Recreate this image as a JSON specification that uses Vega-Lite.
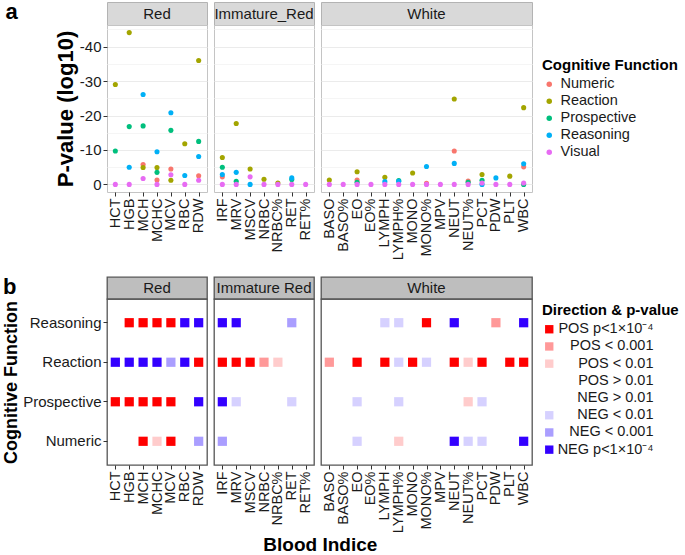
{
  "$schema": "https://vega.github.io/schema/vega-lite/v6.json",
  "background": "white",
  "padding": {"left": 1, "top": 0, "right": 0, "bottom": 0},
  "config": {"font": "Liberation Sans", "view": {"stroke": null}, "concat": {"spacing": 5}},
  "datasets": {
    "top": [
      {"g":"Red","i":"MCH","f":"Numeric","v":-5.8},
      {"g":"Red","i":"MCHC","f":"Numeric","v":-1.3},
      {"g":"Red","i":"MCV","f":"Numeric","v":-4.5},
      {"g":"Red","i":"RDW","f":"Numeric","v":-2.5},
      {"g":"Immature_Red","i":"IRF","f":"Numeric","v":-2.2},
      {"g":"White","i":"EO","f":"Numeric","v":-1.3},
      {"g":"White","i":"MONO%","f":"Numeric","v":-0.3},
      {"g":"White","i":"NEUT","f":"Numeric","v":-9.7},
      {"g":"White","i":"NEUT%","f":"Numeric","v":-1.0},
      {"g":"White","i":"WBC","f":"Numeric","v":-5.1},
      {"g":"Red","i":"HCT","f":"Reaction","v":-29.0},
      {"g":"Red","i":"HGB","f":"Reaction","v":-44.1},
      {"g":"Red","i":"MCH","f":"Reaction","v":-4.9},
      {"g":"Red","i":"MCHC","f":"Reaction","v":-4.9},
      {"g":"Red","i":"MCV","f":"Reaction","v":-1.2},
      {"g":"Red","i":"RBC","f":"Reaction","v":-11.8},
      {"g":"Red","i":"RDW","f":"Reaction","v":-36.0},
      {"g":"Immature_Red","i":"IRF","f":"Reaction","v":-7.8},
      {"g":"Immature_Red","i":"MRV","f":"Reaction","v":-17.7},
      {"g":"Immature_Red","i":"MSCV","f":"Reaction","v":-4.5},
      {"g":"Immature_Red","i":"NRBC","f":"Reaction","v":-1.5},
      {"g":"Immature_Red","i":"NRBC%","f":"Reaction","v":-0.4},
      {"g":"White","i":"BASO","f":"Reaction","v":-1.3},
      {"g":"White","i":"EO","f":"Reaction","v":-3.7},
      {"g":"White","i":"LYMPH","f":"Reaction","v":-2.1},
      {"g":"White","i":"MONO","f":"Reaction","v":-3.3},
      {"g":"White","i":"NEUT","f":"Reaction","v":-24.8},
      {"g":"White","i":"PCT","f":"Reaction","v":-2.9},
      {"g":"White","i":"PLT","f":"Reaction","v":-2.4},
      {"g":"White","i":"WBC","f":"Reaction","v":-22.3},
      {"g":"Red","i":"HCT","f":"Prospective","v":-9.7},
      {"g":"Red","i":"HGB","f":"Prospective","v":-16.8},
      {"g":"Red","i":"MCH","f":"Prospective","v":-17.0},
      {"g":"Red","i":"MCHC","f":"Prospective","v":-3.5},
      {"g":"Red","i":"MCV","f":"Prospective","v":-15.7},
      {"g":"Red","i":"RDW","f":"Prospective","v":-12.5},
      {"g":"Immature_Red","i":"IRF","f":"Prospective","v":-5.0},
      {"g":"Immature_Red","i":"MRV","f":"Prospective","v":-0.9},
      {"g":"Immature_Red","i":"RET","f":"Prospective","v":-1.4},
      {"g":"White","i":"EO","f":"Prospective","v":-0.6},
      {"g":"White","i":"LYMPH%","f":"Prospective","v":-1.1},
      {"g":"White","i":"NEUT%","f":"Prospective","v":-0.6},
      {"g":"White","i":"PCT","f":"Prospective","v":-1.2},
      {"g":"White","i":"WBC","f":"Prospective","v":0},
      {"g":"Red","i":"HGB","f":"Reasoning","v":-5.0},
      {"g":"Red","i":"MCH","f":"Reasoning","v":-26.1},
      {"g":"Red","i":"MCHC","f":"Reasoning","v":-9.5},
      {"g":"Red","i":"MCV","f":"Reasoning","v":-20.8},
      {"g":"Red","i":"RBC","f":"Reasoning","v":-2.6},
      {"g":"Red","i":"RDW","f":"Reasoning","v":-8.1},
      {"g":"Immature_Red","i":"IRF","f":"Reasoning","v":-2.9},
      {"g":"Immature_Red","i":"MRV","f":"Reasoning","v":-3.5},
      {"g":"Immature_Red","i":"MSCV","f":"Reasoning","v":0},
      {"g":"Immature_Red","i":"RET","f":"Reasoning","v":-1.9},
      {"g":"White","i":"LYMPH","f":"Reasoning","v":-0.8},
      {"g":"White","i":"LYMPH%","f":"Reasoning","v":-0.9},
      {"g":"White","i":"MONO%","f":"Reasoning","v":-5.2},
      {"g":"White","i":"NEUT","f":"Reasoning","v":-6.1},
      {"g":"White","i":"PCT","f":"Reasoning","v":0},
      {"g":"White","i":"PDW","f":"Reasoning","v":-1.9},
      {"g":"White","i":"WBC","f":"Reasoning","v":-6.0},
      {"g":"Red","i":"HCT","f":"Visual","v":0},
      {"g":"Red","i":"HGB","f":"Visual","v":0},
      {"g":"Red","i":"MCH","f":"Visual","v":-1.7},
      {"g":"Red","i":"MCHC","f":"Visual","v":0},
      {"g":"Red","i":"MCV","f":"Visual","v":-2.8},
      {"g":"Red","i":"RBC","f":"Visual","v":0},
      {"g":"Red","i":"RDW","f":"Visual","v":-1.2},
      {"g":"Immature_Red","i":"IRF","f":"Visual","v":0},
      {"g":"Immature_Red","i":"MRV","f":"Visual","v":0},
      {"g":"Immature_Red","i":"MSCV","f":"Visual","v":-2.2},
      {"g":"Immature_Red","i":"NRBC","f":"Visual","v":0},
      {"g":"Immature_Red","i":"NRBC%","f":"Visual","v":0},
      {"g":"Immature_Red","i":"RET","f":"Visual","v":0},
      {"g":"Immature_Red","i":"RET%","f":"Visual","v":0},
      {"g":"White","i":"BASO","f":"Visual","v":0},
      {"g":"White","i":"BASO%","f":"Visual","v":0},
      {"g":"White","i":"EO","f":"Visual","v":0},
      {"g":"White","i":"EO%","f":"Visual","v":0},
      {"g":"White","i":"LYMPH","f":"Visual","v":0},
      {"g":"White","i":"LYMPH%","f":"Visual","v":0},
      {"g":"White","i":"MONO","f":"Visual","v":0},
      {"g":"White","i":"MONO%","f":"Visual","v":0},
      {"g":"White","i":"MPV","f":"Visual","v":0},
      {"g":"White","i":"NEUT","f":"Visual","v":0},
      {"g":"White","i":"NEUT%","f":"Visual","v":0},
      {"g":"White","i":"PCT","f":"Visual","v":-0.4},
      {"g":"White","i":"PDW","f":"Visual","v":0},
      {"g":"White","i":"PLT","f":"Visual","v":0},
      {"g":"White","i":"WBC","f":"Visual","v":-0.4}
    ],
    "tiles": [
      {"g":"Red","i":"HGB","f":"Reasoning","c":"POS p<1×10⁻⁴"},
      {"g":"Red","i":"MCH","f":"Reasoning","c":"POS p<1×10⁻⁴"},
      {"g":"Red","i":"MCHC","f":"Reasoning","c":"POS p<1×10⁻⁴"},
      {"g":"Red","i":"MCV","f":"Reasoning","c":"POS p<1×10⁻⁴"},
      {"g":"Red","i":"RBC","f":"Reasoning","c":"NEG p<1×10⁻⁴"},
      {"g":"Red","i":"RDW","f":"Reasoning","c":"NEG p<1×10⁻⁴"},
      {"g":"Red","i":"HCT","f":"Reaction","c":"NEG p<1×10⁻⁴"},
      {"g":"Red","i":"HGB","f":"Reaction","c":"NEG p<1×10⁻⁴"},
      {"g":"Red","i":"MCH","f":"Reaction","c":"NEG p<1×10⁻⁴"},
      {"g":"Red","i":"MCHC","f":"Reaction","c":"NEG p<1×10⁻⁴"},
      {"g":"Red","i":"MCV","f":"Reaction","c":"NEG < 0.001"},
      {"g":"Red","i":"RBC","f":"Reaction","c":"NEG p<1×10⁻⁴"},
      {"g":"Red","i":"RDW","f":"Reaction","c":"POS p<1×10⁻⁴"},
      {"g":"Red","i":"HCT","f":"Prospective","c":"POS p<1×10⁻⁴"},
      {"g":"Red","i":"HGB","f":"Prospective","c":"POS p<1×10⁻⁴"},
      {"g":"Red","i":"MCH","f":"Prospective","c":"POS p<1×10⁻⁴"},
      {"g":"Red","i":"MCHC","f":"Prospective","c":"POS p<1×10⁻⁴"},
      {"g":"Red","i":"MCV","f":"Prospective","c":"POS p<1×10⁻⁴"},
      {"g":"Red","i":"RDW","f":"Prospective","c":"NEG p<1×10⁻⁴"},
      {"g":"Red","i":"MCH","f":"Numeric","c":"POS p<1×10⁻⁴"},
      {"g":"Red","i":"MCHC","f":"Numeric","c":"POS < 0.01"},
      {"g":"Red","i":"MCV","f":"Numeric","c":"POS p<1×10⁻⁴"},
      {"g":"Red","i":"RDW","f":"Numeric","c":"NEG < 0.001"},
      {"g":"Immature Red","i":"IRF","f":"Reasoning","c":"NEG p<1×10⁻⁴"},
      {"g":"Immature Red","i":"MRV","f":"Reasoning","c":"NEG p<1×10⁻⁴"},
      {"g":"Immature Red","i":"RET","f":"Reasoning","c":"NEG < 0.001"},
      {"g":"Immature Red","i":"IRF","f":"Reaction","c":"POS p<1×10⁻⁴"},
      {"g":"Immature Red","i":"MRV","f":"Reaction","c":"POS p<1×10⁻⁴"},
      {"g":"Immature Red","i":"MSCV","f":"Reaction","c":"POS p<1×10⁻⁴"},
      {"g":"Immature Red","i":"NRBC","f":"Reaction","c":"POS < 0.001"},
      {"g":"Immature Red","i":"NRBC%","f":"Reaction","c":"POS < 0.01"},
      {"g":"Immature Red","i":"IRF","f":"Prospective","c":"NEG p<1×10⁻⁴"},
      {"g":"Immature Red","i":"MRV","f":"Prospective","c":"NEG < 0.01"},
      {"g":"Immature Red","i":"RET","f":"Prospective","c":"NEG < 0.01"},
      {"g":"Immature Red","i":"IRF","f":"Numeric","c":"NEG < 0.001"},
      {"g":"White","i":"LYMPH","f":"Reasoning","c":"NEG < 0.01"},
      {"g":"White","i":"LYMPH%","f":"Reasoning","c":"NEG < 0.01"},
      {"g":"White","i":"MONO%","f":"Reasoning","c":"POS p<1×10⁻⁴"},
      {"g":"White","i":"NEUT","f":"Reasoning","c":"NEG p<1×10⁻⁴"},
      {"g":"White","i":"PDW","f":"Reasoning","c":"POS < 0.001"},
      {"g":"White","i":"WBC","f":"Reasoning","c":"NEG p<1×10⁻⁴"},
      {"g":"White","i":"BASO","f":"Reaction","c":"POS < 0.001"},
      {"g":"White","i":"EO","f":"Reaction","c":"POS p<1×10⁻⁴"},
      {"g":"White","i":"LYMPH","f":"Reaction","c":"POS p<1×10⁻⁴"},
      {"g":"White","i":"LYMPH%","f":"Reaction","c":"NEG < 0.01"},
      {"g":"White","i":"MONO","f":"Reaction","c":"POS p<1×10⁻⁴"},
      {"g":"White","i":"MONO%","f":"Reaction","c":"NEG < 0.01"},
      {"g":"White","i":"NEUT","f":"Reaction","c":"POS p<1×10⁻⁴"},
      {"g":"White","i":"NEUT%","f":"Reaction","c":"POS < 0.01"},
      {"g":"White","i":"PCT","f":"Reaction","c":"POS p<1×10⁻⁴"},
      {"g":"White","i":"PLT","f":"Reaction","c":"POS p<1×10⁻⁴"},
      {"g":"White","i":"WBC","f":"Reaction","c":"POS p<1×10⁻⁴"},
      {"g":"White","i":"EO","f":"Prospective","c":"NEG < 0.01"},
      {"g":"White","i":"LYMPH%","f":"Prospective","c":"NEG < 0.01"},
      {"g":"White","i":"NEUT%","f":"Prospective","c":"POS < 0.01"},
      {"g":"White","i":"PCT","f":"Prospective","c":"NEG < 0.01"},
      {"g":"White","i":"EO","f":"Numeric","c":"NEG < 0.01"},
      {"g":"White","i":"LYMPH%","f":"Numeric","c":"POS < 0.01"},
      {"g":"White","i":"NEUT","f":"Numeric","c":"NEG p<1×10⁻⁴"},
      {"g":"White","i":"NEUT%","f":"Numeric","c":"NEG < 0.01"},
      {"g":"White","i":"PCT","f":"Numeric","c":"NEG < 0.01"},
      {"g":"White","i":"WBC","f":"Numeric","c":"NEG p<1×10⁻⁴"}
    ]
  },
  "vconcat": [
    {
      "hconcat": [
        {
          "bounds": "flush", "spacing": 0,
          "vconcat": [
            {"width": 100, "height": 23, "data": {"values": [{"p": "Red"}]},
             "title": {"text": "a", "orient": "left", "angle": 0, "anchor": "end", "baseline": "top", "fontSize": 22, "fontWeight": "bold", "offset": 77, "color": "#000"},
             "mark": {"type": "text", "fontSize": 15, "color": "#1A1A1A"}, "encoding": {"text": {"field": "p"}},
             "view": {"fill": "#D9D9D9", "stroke": "#B3B3B3"}},
            {"width": 100, "height": 167, "data": {"name": "top"},
             "transform": [{"filter": "datum.g === 'Red'"}],
             "mark": {"type": "point", "filled": true, "size": 26, "opacity": 1},
             "encoding": {
               "x": {"field": "i", "type": "nominal", "scale": {"type": "point", "padding": 0.6, "domain": ["HCT","HGB","MCH","MCHC","MCV","RBC","RDW"]},
                     "axis": {"title": null, "labelAngle": -90, "labelFontSize": 14.5, "labelColor": "#1A1A1A", "domain": false, "tickColor": "#333", "tickSize": 4, "gridColor": "#EBEBEB", "labelPadding": 2}},
               "y": {"field": "v", "type": "quantitative", "scale": {"domain": [-46.3, 2.2], "reverse": true, "nice": false, "zero": false},
                     "axis": {"title": "P-value (log10)", "titleFontSize": 22, "titleFontWeight": "bold", "titleColor": "#000", "titlePadding": 2,
                              "values": [-45,-40,-35,-30,-25,-20,-15,-10,-5,0],
                              "labelExpr": "datum.value % 10 === 0 ? '' + datum.value : ''",
                              "labelFontSize": 15, "labelColor": "#1A1A1A", "domain": false, "tickColor": "#333", "tickSize": 4, "labelPadding": 2,
                              "tickOpacity": {"condition": {"test": "datum.value % 10 === 0", "value": 1}, "value": 0},
                              "gridColor": {"condition": {"test": "datum.value % 10 === 0", "value": "#EBEBEB"}, "value": "#F5F5F5"}}},
               "color": {"field": "f", "type": "nominal",
                         "scale": {"domain": ["Numeric","Reaction","Prospective","Reasoning","Visual"], "range": ["#F8766D","#A3A500","#00BF7D","#00B0F6","#E76BF3"]},
                         "legend": {"orient": "none", "legendX": 435, "legendY": 56, "title": "Cognitive Function", "titleFontSize": 15, "titleFontWeight": "bold", "titleColor": "#000", "labelFontSize": 14.5, "labelColor": "#1A1A1A", "symbolType": "circle", "symbolSize": 30, "rowPadding": 2, "titlePadding": 4}}
             },
             "view": {"stroke": "#C4C4C4"}}
          ]
        },
        {
          "bounds": "flush", "spacing": 0,
          "vconcat": [
            {"width": 100, "height": 23, "data": {"values": [{"p": "Immature_Red"}]},
             "mark": {"type": "text", "fontSize": 15, "color": "#1A1A1A"}, "encoding": {"text": {"field": "p"}},
             "view": {"fill": "#D9D9D9", "stroke": "#B3B3B3"}},
            {"width": 100, "height": 167, "data": {"name": "top"},
             "transform": [{"filter": "datum.g === 'Immature_Red'"}],
             "mark": {"type": "point", "filled": true, "size": 26, "opacity": 1},
             "encoding": {
               "x": {"field": "i", "type": "nominal", "scale": {"type": "point", "padding": 0.6, "domain": ["IRF","MRV","MSCV","NRBC","NRBC%","RET","RET%"]},
                     "axis": {"title": null, "labelAngle": -90, "labelFontSize": 14.5, "labelColor": "#1A1A1A", "domain": false, "tickColor": "#333", "tickSize": 4, "gridColor": "#EBEBEB", "labelPadding": 2}},
               "y": {"field": "v", "type": "quantitative", "scale": {"domain": [-46.3, 2.2], "reverse": true, "nice": false, "zero": false},
                     "axis": {"title": null, "labels": false, "ticks": false, "domain": false,
                              "values": [-45,-40,-35,-30,-25,-20,-15,-10,-5,0],
                              "gridColor": {"condition": {"test": "datum.value % 10 === 0", "value": "#EBEBEB"}, "value": "#F5F5F5"}}},
               "color": {"field": "f", "type": "nominal"}
             },
             "view": {"stroke": "#C4C4C4"}}
          ]
        },
        {
          "bounds": "flush", "spacing": 0,
          "vconcat": [
            {"width": 211, "height": 23, "data": {"values": [{"p": "White"}]},
             "mark": {"type": "text", "fontSize": 15, "color": "#1A1A1A"}, "encoding": {"text": {"field": "p"}},
             "view": {"fill": "#D9D9D9", "stroke": "#B3B3B3"}},
            {"width": 211, "height": 167, "data": {"name": "top"},
             "transform": [{"filter": "datum.g === 'White'"}],
             "mark": {"type": "point", "filled": true, "size": 26, "opacity": 1},
             "encoding": {
               "x": {"field": "i", "type": "nominal", "scale": {"type": "point", "padding": 0.6, "domain": ["BASO","BASO%","EO","EO%","LYMPH","LYMPH%","MONO","MONO%","MPV","NEUT","NEUT%","PCT","PDW","PLT","WBC"]},
                     "axis": {"title": null, "labelAngle": -90, "labelFontSize": 14.5, "labelColor": "#1A1A1A", "domain": false, "tickColor": "#333", "tickSize": 4, "gridColor": "#EBEBEB", "labelPadding": 2}},
               "y": {"field": "v", "type": "quantitative", "scale": {"domain": [-46.3, 2.2], "reverse": true, "nice": false, "zero": false},
                     "axis": {"title": null, "labels": false, "ticks": false, "domain": false,
                              "values": [-45,-40,-35,-30,-25,-20,-15,-10,-5,0],
                              "gridColor": {"condition": {"test": "datum.value % 10 === 0", "value": "#EBEBEB"}, "value": "#F5F5F5"}}},
               "color": {"field": "f", "type": "nominal"}
             },
             "view": {"stroke": "#C4C4C4"}}
          ]
        }
      ]
    },
    {
      "title": {"text": "Blood Indice", "orient": "bottom", "anchor": "middle", "fontSize": 19, "fontWeight": "bold", "color": "#000", "dx": 53, "offset": 3},
      "hconcat": [
        {
          "bounds": "flush", "spacing": 0,
          "vconcat": [
            {"width": 100, "height": 22, "data": {"values": [{"p": "Red"}]},
             "title": {"text": "b", "orient": "left", "angle": 0, "anchor": "end", "baseline": "top", "fontSize": 22, "fontWeight": "bold", "offset": 77, "color": "#000"},
             "mark": {"type": "text", "fontSize": 15, "color": "#1A1A1A"}, "encoding": {"text": {"field": "p"}},
             "view": {"fill": "#BEBEBE", "stroke": "#555555", "strokeWidth": 1.3}},
            {"width": 100, "height": 166, "data": {"name": "tiles"},
             "transform": [{"filter": "datum.g === 'Red'"}],
             "encoding": {
               "x": {"field": "i", "type": "nominal", "scale": {"type": "point", "padding": 0.6, "domain": ["HCT","HGB","MCH","MCHC","MCV","RBC","RDW"]},
                     "axis": {"title": null, "labelAngle": -90, "labelFontSize": 14.5, "labelColor": "#1A1A1A", "domain": false, "tickColor": "#333", "tickSize": 4, "gridColor": "#BDBDBD", "gridDash": [1.5, 3], "labelPadding": 2}}
             },
             "layer": [
               {"mark": {"type": "square", "opacity": 0},
                "encoding": {
                  "y": {"field": "f", "type": "nominal", "scale": {"type": "band", "paddingInner": 0, "paddingOuter": 0.1, "domain": ["Reasoning","Reaction","Prospective","Numeric"]},
                        "axis": {"orient": "right", "title": null, "labels": false, "ticks": false, "domain": false, "tickBand": "extent", "gridColor": "#BDBDBD", "gridDash": [1.5, 3]}}
                }},
               {"mark": {"type": "square", "filled": true, "size": 85, "opacity": 1},
                "encoding": {
                  "y": {"field": "f", "type": "nominal",
                        "axis": {"title": "Cognitive Function", "titleFontSize": 18, "titleFontWeight": "bold", "titleColor": "#000", "titlePadding": 2,
                                 "labelFontSize": 15, "labelColor": "#1A1A1A", "domain": false, "tickColor": "#333", "tickSize": 4, "labelPadding": 2, "gridColor": "#BDBDBD", "gridDash": [1.5, 3]}},
                  "fill": {"field": "c", "type": "nominal",
                           "scale": {"domain": ["POS p<1×10⁻⁴","POS < 0.001","POS < 0.01","POS > 0.01","NEG > 0.01","NEG < 0.01","NEG < 0.001","NEG p<1×10⁻⁴"],
                                     "range": ["#FF0000","#FF9999","#FFCCCC","#FFFFFF","#FFFFFF","#D6D1FF","#AA9EFF","#3300FF"]},
                           "legend": {"orient": "none", "legendX": 435, "legendY": 301, "title": "Direction & p-value", "titleFontSize": 15, "titleFontWeight": "bold", "titleColor": "#000", "labelFontSize": 14.5, "labelColor": "#1A1A1A", "symbolType": "square", "symbolSize": 70, "rowPadding": 2.2, "titlePadding": 4, "labelAlign": "right", "labelOffset": 97}}
                }}
             ],
             "resolve": {"axis": {"y": "independent"}},
             "view": {"stroke": "#555555", "strokeWidth": 1.3}}
          ]
        },
        {
          "bounds": "flush", "spacing": 0,
          "vconcat": [
            {"width": 100, "height": 22, "data": {"values": [{"p": "Immature Red"}]},
             "mark": {"type": "text", "fontSize": 15, "color": "#1A1A1A"}, "encoding": {"text": {"field": "p"}},
             "view": {"fill": "#BEBEBE", "stroke": "#555555", "strokeWidth": 1.3}},
            {"width": 100, "height": 166, "data": {"name": "tiles"},
             "transform": [{"filter": "datum.g === 'Immature Red'"}],
             "encoding": {
               "x": {"field": "i", "type": "nominal", "scale": {"type": "point", "padding": 0.6, "domain": ["IRF","MRV","MSCV","NRBC","NRBC%","RET","RET%"]},
                     "axis": {"title": null, "labelAngle": -90, "labelFontSize": 14.5, "labelColor": "#1A1A1A", "domain": false, "tickColor": "#333", "tickSize": 4, "gridColor": "#BDBDBD", "gridDash": [1.5, 3], "labelPadding": 2}}
             },
             "layer": [
               {"mark": {"type": "square", "opacity": 0},
                "encoding": {
                  "y": {"field": "f", "type": "nominal", "scale": {"type": "band", "paddingInner": 0, "paddingOuter": 0.1, "domain": ["Reasoning","Reaction","Prospective","Numeric"]},
                        "axis": {"orient": "right", "title": null, "labels": false, "ticks": false, "domain": false, "tickBand": "extent", "gridColor": "#BDBDBD", "gridDash": [1.5, 3]}}
                }},
               {"mark": {"type": "square", "filled": true, "size": 85, "opacity": 1},
                "encoding": {
                  "y": {"field": "f", "type": "nominal",
                        "axis": {"title": null, "labels": false, "ticks": false, "domain": false, "gridColor": "#BDBDBD", "gridDash": [1.5, 3]}},
                  "fill": {"field": "c", "type": "nominal"}
                }}
             ],
             "resolve": {"axis": {"y": "independent"}},
             "view": {"stroke": "#555555", "strokeWidth": 1.3}}
          ]
        },
        {
          "bounds": "flush", "spacing": 0,
          "vconcat": [
            {"width": 211, "height": 22, "data": {"values": [{"p": "White"}]},
             "mark": {"type": "text", "fontSize": 15, "color": "#1A1A1A"}, "encoding": {"text": {"field": "p"}},
             "view": {"fill": "#BEBEBE", "stroke": "#555555", "strokeWidth": 1.3}},
            {"width": 211, "height": 166, "data": {"name": "tiles"},
             "transform": [{"filter": "datum.g === 'White'"}],
             "encoding": {
               "x": {"field": "i", "type": "nominal", "scale": {"type": "point", "padding": 0.6, "domain": ["BASO","BASO%","EO","EO%","LYMPH","LYMPH%","MONO","MONO%","MPV","NEUT","NEUT%","PCT","PDW","PLT","WBC"]},
                     "axis": {"title": null, "labelAngle": -90, "labelFontSize": 14.5, "labelColor": "#1A1A1A", "domain": false, "tickColor": "#333", "tickSize": 4, "gridColor": "#BDBDBD", "gridDash": [1.5, 3], "labelPadding": 2}}
             },
             "layer": [
               {"mark": {"type": "square", "opacity": 0},
                "encoding": {
                  "y": {"field": "f", "type": "nominal", "scale": {"type": "band", "paddingInner": 0, "paddingOuter": 0.1, "domain": ["Reasoning","Reaction","Prospective","Numeric"]},
                        "axis": {"orient": "right", "title": null, "labels": false, "ticks": false, "domain": false, "tickBand": "extent", "gridColor": "#BDBDBD", "gridDash": [1.5, 3]}}
                }},
               {"mark": {"type": "square", "filled": true, "size": 85, "opacity": 1},
                "encoding": {
                  "y": {"field": "f", "type": "nominal",
                        "axis": {"title": null, "labels": false, "ticks": false, "domain": false, "gridColor": "#BDBDBD", "gridDash": [1.5, 3]}},
                  "fill": {"field": "c", "type": "nominal"}
                }}
             ],
             "resolve": {"axis": {"y": "independent"}},
             "view": {"stroke": "#555555", "strokeWidth": 1.3}}
          ]
        }
      ]
    }
  ],
  "spacing": 14
}
